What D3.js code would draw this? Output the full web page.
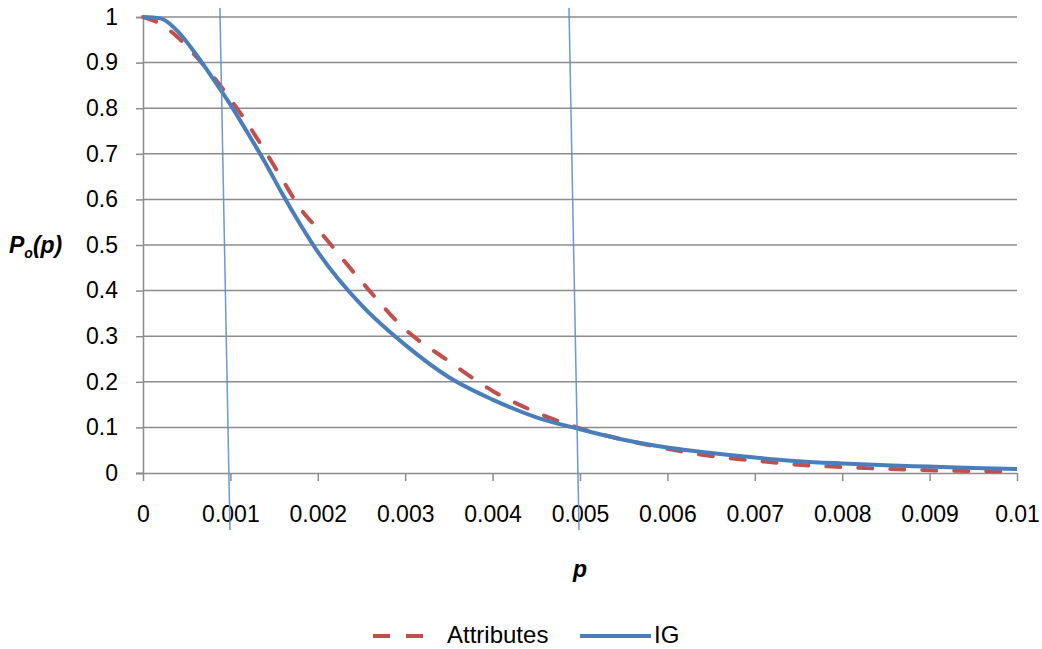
<!DOCTYPE html>
<html>
<head>
<meta charset="utf-8">
<script src="https://cdn.jsdelivr.net/npm/d3@7"></script>
<style>
  html, body { margin: 0; padding: 0; background: #fff; }
  svg text { font-family: "Liberation Sans", Arial, sans-serif; fill: #000; }
</style>
</head>
<body>
<svg id="chart" width="1042" height="649"></svg>
<script>
// ---- data ----
const pValues = [0, 0.0002, 0.0004, 0.0006, 0.0008, 0.001, 0.0012, 0.0014, 0.0016, 0.0018, 0.002,
  0.0025, 0.003, 0.0035, 0.004, 0.0045, 0.005, 0.0055, 0.006, 0.0065, 0.007, 0.0075, 0.008,
  0.0085, 0.009, 0.0095, 0.01];
const attributesValues = [1.0, 0.985, 0.955, 0.915, 0.87, 0.82, 0.765, 0.705, 0.642, 0.58, 0.535,
  0.42, 0.315, 0.245, 0.18, 0.133, 0.098, 0.073, 0.053, 0.037, 0.027, 0.018, 0.013,
  0.009, 0.006, 0.004, 0.003];
const igValues = [1.0, 0.997, 0.968, 0.92, 0.865, 0.808, 0.745, 0.68, 0.61, 0.545, 0.485,
  0.368, 0.281, 0.21, 0.161, 0.122, 0.096, 0.073, 0.056, 0.044, 0.034, 0.026, 0.021,
  0.017, 0.014, 0.011, 0.009];
const xTicks = [0, 0.001, 0.002, 0.003, 0.004, 0.005, 0.006, 0.007, 0.008, 0.009, 0.01];
const xTickLabels = ["0", "0.001", "0.002", "0.003", "0.004", "0.005", "0.006", "0.007", "0.008", "0.009", "0.01"];
const yTicks = [0, 0.1, 0.2, 0.3, 0.4, 0.5, 0.6, 0.7, 0.8, 0.9, 1];
const yTickLabels = ["0", "0.1", "0.2", "0.3", "0.4", "0.5", "0.6", "0.7", "0.8", "0.9", "1"];
// hand-drawn marker lines (top point, bottom point) in data coordinates
const markerLines = [
  [{p: 0.00088, v: 1.02}, {p: 0.000995, v: -0.125}],
  [{p: 0.004874, v: 1.02}, {p: 0.004989, v: -0.125}]
];
const seriesNames = ["Attributes", "IG"];

// ---- layout ----
const svg = d3.select("#chart");
const mLeft = 143, mRight = 1017, mTop = 17, mBottom = 473;
const x = d3.scaleLinear().domain([0, 0.01]).range([mLeft, mRight]);
const y = d3.scaleLinear().domain([0, 1]).range([mBottom, mTop]);
const gridColor = "#8c8c8c";
const fontSize = 23;

// gridlines
svg.append("g").selectAll("line").data(yTicks.slice(1)).join("line")
  .attr("x1", mLeft).attr("x2", mRight)
  .attr("y1", d => y(d)).attr("y2", d => y(d))
  .attr("stroke", gridColor).attr("stroke-width", 1.5);

// y axis
const yAxis = d3.axisLeft(y).tickValues(yTicks).tickSize(7).tickPadding(18)
  .tickFormat((d, i) => yTickLabels[i]);
const gy = svg.append("g").attr("transform", `translate(${mLeft},0)`).call(yAxis);
gy.select(".domain").attr("stroke", gridColor).attr("stroke-width", 1.5);
gy.selectAll(".tick line").attr("stroke", gridColor).attr("stroke-width", 1.5);
gy.selectAll(".tick text").attr("font-size", fontSize).attr("font-family", "Liberation Sans, Arial, sans-serif").attr("fill", "#000");

// x axis
const xAxis = d3.axisBottom(x).tickValues(xTicks).tickSize(8).tickPadding(25)
  .tickFormat((d, i) => xTickLabels[i]);
const gx = svg.append("g").attr("transform", `translate(0,${mBottom})`).call(xAxis);
gx.select(".domain").attr("stroke", gridColor).attr("stroke-width", 1.5).attr("d", `M${mLeft - 7},0.5H${mRight}`);
gx.selectAll(".tick line").attr("stroke", gridColor).attr("stroke-width", 1.5);
gx.selectAll(".tick text").attr("font-size", fontSize).attr("font-family", "Liberation Sans, Arial, sans-serif").attr("fill", "#000");

// series
const line = d3.line().x(d => x(d[0])).y(d => y(d[1])).curve(d3.curveMonotoneX);
const redColor = "#c0504d", blueColor = "#4a7ebb";
svg.append("path").datum(pValues.map((p, i) => [p, attributesValues[i]]))
  .attr("d", line).attr("fill", "none").attr("stroke", redColor).attr("stroke-width", 4)
  .attr("stroke-dasharray", "14,18").attr("stroke-linecap", "round");
svg.append("path").datum(pValues.map((p, i) => [p, igValues[i]]))
  .attr("d", line).attr("fill", "none").attr("stroke", blueColor).attr("stroke-width", 4)
  .attr("stroke-linejoin", "round");

// marker lines
svg.append("g").selectAll("line").data(markerLines).join("line")
  .attr("x1", d => x(d[0].p)).attr("y1", d => y(d[0].v))
  .attr("x2", d => x(d[1].p)).attr("y2", d => y(d[1].v))
  .attr("stroke", "#5b8fd0").attr("stroke-width", 1.5).attr("opacity", 0.9);

// axis titles
const yt = svg.append("text").attr("x", 9).attr("y", 253)
  .attr("font-size", 23).attr("font-weight", "bold").attr("font-style", "italic");
yt.append("tspan").text("P");
yt.append("tspan").text("o").attr("font-size", 14).attr("dy", 5);
yt.append("tspan").text("(p)").attr("dy", -5);

svg.append("text").attr("x", x(0.005)).attr("y", 577).attr("text-anchor", "middle")
  .attr("font-size", 23).attr("font-weight", "bold").attr("font-style", "italic").text("p");

// legend
const lg = svg.append("g");
lg.append("line").attr("x1", 373).attr("x2", 423).attr("y1", 636).attr("y2", 636)
  .attr("stroke", redColor).attr("stroke-width", 4).attr("stroke-dasharray", "17,16")
  .attr("stroke-linecap", "butt");
lg.append("text").attr("x", 447).attr("y", 643).attr("font-size", 24).text(seriesNames[0]);
lg.append("line").attr("x1", 580).attr("x2", 651).attr("y1", 636).attr("y2", 636)
  .attr("stroke", blueColor).attr("stroke-width", 4);
lg.append("text").attr("x", 654).attr("y", 643).attr("font-size", 24).text(seriesNames[1]);
</script>
</body>
</html>
